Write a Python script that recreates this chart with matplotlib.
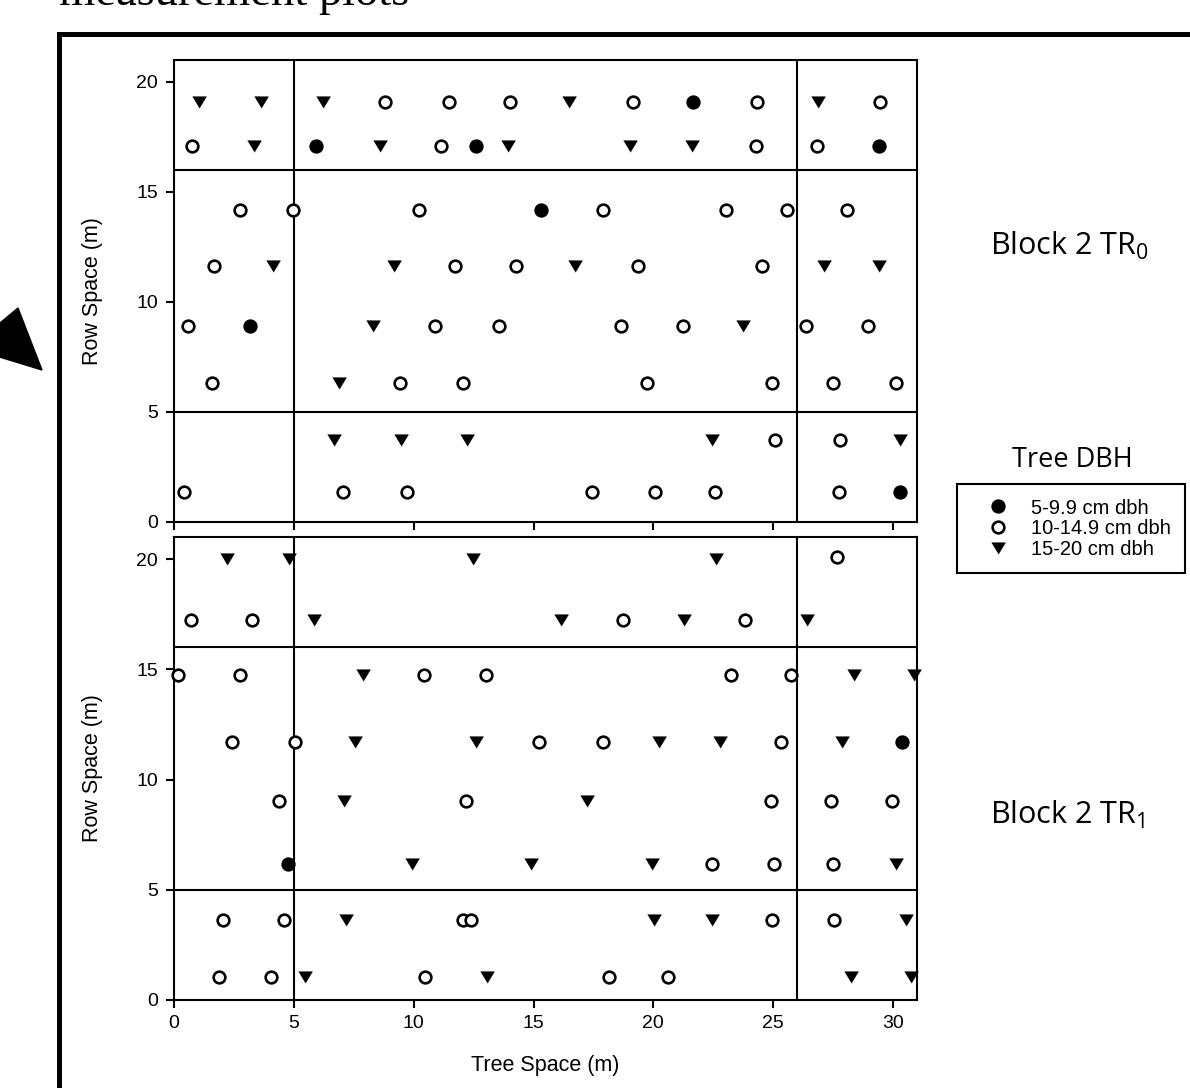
import matplotlib
matplotlib.use("Agg")
import matplotlib.pyplot as plt
from matplotlib.patches import Rectangle, Polygon

# ---------------------------------------------------
# DATA: tree positions (m)
# ---------------------------------------------------
# Block 2 TR0 (upper map)
tr0_small_x = [21.67, 5.92, 12.58, 29.42, 15.33, 3.17, 30.29]
tr0_small_y = [19.09, 17.09, 17.09, 17.09, 14.18, 8.91, 1.36]

tr0_mid_x = [8.79, 11.46, 14.0, 19.13, 24.33, 29.46,
             0.75, 11.13, 24.29, 26.83,
             2.75, 4.96, 10.21, 17.88, 23.04, 25.58, 28.08,
             1.67, 11.71, 14.25, 19.38, 24.54,
             0.58, 10.88, 13.54, 18.67, 21.25, 26.38, 28.96,
             1.58, 9.42, 12.04, 19.75, 24.96, 27.5, 30.13,
             25.08, 27.79,
             0.42, 7.04, 9.71, 17.42, 20.08, 22.58, 27.75]
tr0_mid_y = [19.09] * 6 + [17.09] * 4 + [14.18] * 7 + [11.64] * 5 + \
            [8.91] * 7 + [6.32] * 7 + [3.73] * 2 + [1.36] * 7

tr0_large_x = [1.04, 3.63, 6.21, 16.46, 26.85,
               3.33, 8.58, 13.92, 19.04, 21.63,
               4.13, 9.17, 16.75, 27.13, 29.42,
               8.29, 23.75,
               6.88,
               6.67, 9.46, 12.21, 22.46, 30.29]
tr0_large_y = [19.09] * 5 + [17.09] * 5 + [11.64] * 5 + [8.91] * 2 + \
              [6.32] * 1 + [3.73] * 5

# Block 2 TR1 (lower map)
tr1_small_x = [30.38, 4.75]
tr1_small_y = [11.70, 6.17]

tr1_mid_x = [27.67,
             0.71, 3.25, 18.75, 23.83,
             0.17, 2.75, 10.42, 13.0, 23.25, 25.75,
             2.42, 5.04, 15.21, 17.88, 25.33,
             4.38, 12.17, 24.92, 27.42, 29.96,
             22.46, 25.04, 27.5,
             2.04, 4.58, 12.04, 12.38, 24.96, 27.54,
             1.88, 4.04, 10.46, 18.13, 20.63]
tr1_mid_y = [20.1] * 1 + [17.23] * 4 + [14.74] * 6 + [11.70] * 5 + \
            [9.02] * 5 + [6.17] * 3 + [3.63] * 6 + [1.04] * 5

tr1_large_x = [2.21, 4.79, 12.46, 22.63,
               5.83, 16.13, 21.29, 26.42,
               7.88, 28.38, 30.88,
               7.54, 12.58, 20.25, 22.79, 27.88,
               7.08, 17.25,
               9.92, 14.88, 19.96, 30.13,
               7.17, 20.04, 22.46, 30.54,
               5.46, 13.08, 28.25, 30.75]
tr1_large_y = [20.0] * 4 + [17.23] * 4 + [14.74] * 3 + [11.70] * 5 + \
              [9.02] * 2 + [6.17] * 4 + [3.63] * 4 + [1.04] * 4

# plot subdivision lines (m)
split_x = [5, 26]
split_y = [5, 16]

class_labels = ["5-9.9 cm dbh", "10-14.9 cm dbh", "15-20 cm dbh"]
block_labels = ["Block 2 TR$\\mathregular{_0}$", "Block 2 TR$\\mathregular{_1}$"]

# ---------------------------------------------------
# STYLE
# ---------------------------------------------------
plt.rcParams['font.family'] = ['Liberation Sans', 'DejaVu Sans']

W, H = 1190, 1088
fig = plt.figure(figsize=(W / 100, H / 100), dpi=100)

tri = [(-1, 0.83), (1, 0.83), (0, -0.83)]
small_style = dict(marker='o', ms=8.4, mfc='black', mec='black', mew=1.9)
mid_style = dict(marker='o', ms=8.4, mfc='white', mec='black', mew=1.9)
large_style = dict(marker=tri, ms=10, mfc='black', mec='black', mew=0.3)


def draw_map(ax, sx, sy, mx, my, lx, ly, show_xlabels):
    h1, = ax.plot(sx, sy, ls='none', clip_on=False, zorder=3, **small_style)
    h2, = ax.plot(mx, my, ls='none', clip_on=False, zorder=3, **mid_style)
    h3, = ax.plot(lx, ly, ls='none', clip_on=False, zorder=3, **large_style)
    for v in split_x:
        ax.axvline(v, color='black', lw=1.5, zorder=2)
    for v in split_y:
        ax.axhline(v, color='black', lw=1.5, zorder=2)
    ax.set_xlim(0, 31)
    ax.set_ylim(0, 21)
    ax.set_xticks([0, 5, 10, 15, 20, 25, 30])
    ax.set_yticks([0, 5, 10, 15, 20])
    for s in ax.spines.values():
        s.set_linewidth(1.5)
    ax.tick_params(axis='both', direction='out', length=5.5, width=1.5,
                   labelsize=14, colors='black')
    ax.tick_params(axis='y', pad=6)
    ax.tick_params(axis='x', pad=5, labelbottom=show_xlabels)
    ax.set_ylabel('Row Space (m)', fontsize=15.5)
    ax.yaxis.set_label_coords(-0.0956, 0.5)
    return h1, h2, h3


ax_top = fig.add_axes([174 / W, 1 - 522 / H, 743 / W, 462 / H])
ax_bot = fig.add_axes([174 / W, 1 - 1000 / H, 743 / W, 463 / H])

handles = draw_map(ax_top, tr0_small_x, tr0_small_y, tr0_mid_x, tr0_mid_y,
                   tr0_large_x, tr0_large_y, False)
draw_map(ax_bot, tr1_small_x, tr1_small_y, tr1_mid_x, tr1_mid_y,
         tr1_large_x, tr1_large_y, True)
ax_bot.set_xlabel('Tree Space (m)', fontsize=15.5)
ax_bot.xaxis.set_label_coords(0.5, -0.119)

# ---------------------------------------------------
# LABELS, LEGEND AND DECORATION
# ---------------------------------------------------
fig.text(990 / W, 1 - 255 / H, block_labels[0], family='Open Sans',
         fontsize=22, va='baseline', ha='left')
fig.text(990 / W, 1 - 824 / H, block_labels[1], family='Open Sans',
         fontsize=22, va='baseline', ha='left')

fig.text(1072 / W, 1 - 467 / H, 'Tree DBH', family='Open Sans',
         fontsize=19.5, va='baseline', ha='center')

leg = fig.legend(handles, class_labels, loc='upper left',
                 bbox_to_anchor=(957 / W, 1 - 484 / H),
                 bbox_transform=fig.transFigure, borderaxespad=0,
                 fontsize=14.5, labelspacing=0.08, borderpad=0.72,
                 handlelength=2.6, handletextpad=0.35, fancybox=False,
                 edgecolor='black', framealpha=1)
leg.get_frame().set_linewidth(1.5)

# outer page frame and partial caption of the source document
fig.add_artist(Rectangle((59 / W, -0.1), 2, 1 - 34 / H + 0.1,
                         transform=fig.transFigure, fill=False,
                         lw=3.6, ec='black'))
fig.text(59 / W, 1 - 5 / H, 'measurement plots', family='Liberation Serif',
         fontsize=33.5, va='baseline', ha='left')

arrow_px = [(18, 308), (42, 370), (-30, 348)]
fig.add_artist(Polygon([(x / W, 1 - y / H) for x, y in arrow_px],
                       closed=True, transform=fig.transFigure,
                       fc='black', ec='black'))

plt.savefig('out.png', dpi=100)
plt.close()
